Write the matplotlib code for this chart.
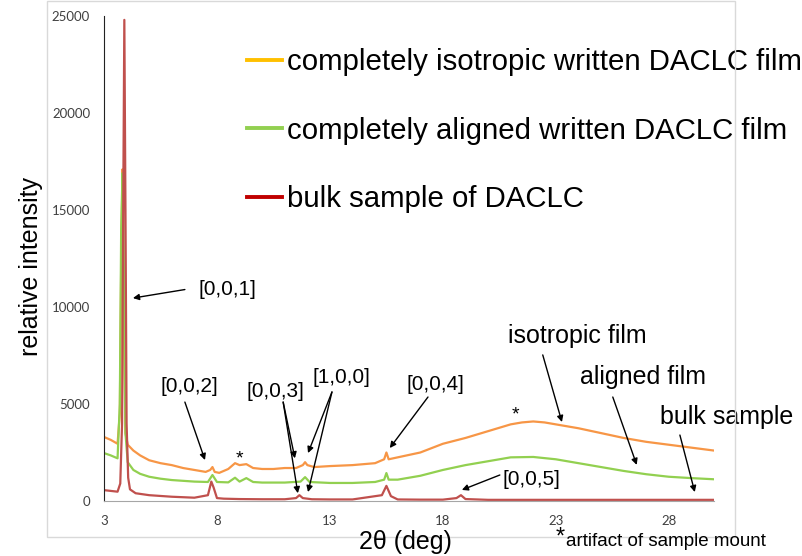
import matplotlib
matplotlib.use("Agg")
import matplotlib.pyplot as plt
from matplotlib.lines import Line2D
from matplotlib.patches import Rectangle

plt.rcParams['font.family'] = ['Liberation Sans', 'DejaVu Sans']

# isotropic written film (orange)
iso_x = [3.0, 3.3, 3.6, 3.7, 3.76, 3.82, 3.88, 3.95, 4.05, 4.3, 4.6, 5.0, 5.5, 6.0, 6.5, 7.0,
         7.5, 7.7, 7.8, 7.9, 8.1, 8.5, 8.8, 9.0, 9.3, 9.6, 10.0, 10.5, 11.0, 11.5, 11.8,
         11.9, 12.0, 12.3, 13.0, 14.0, 15.0, 15.4, 15.5, 15.6, 16.0, 17.0, 18.0, 19.0,
         20.0, 21.0, 21.5, 22.0, 22.5, 23.0, 24.0, 25.0, 26.0, 27.0, 28.0, 29.0, 30.0]
iso_y = [3300, 3150, 2950, 4500, 12000, 17100, 9000, 3500, 2900, 2600, 2350, 2100, 1950,
         1850, 1700, 1600, 1500, 1600, 1750, 1500, 1450, 1650, 1950, 1850, 1900, 1700,
         1650, 1650, 1700, 1700, 1850, 2000, 1850, 1750, 1800, 1850, 1950, 2150, 2500,
         2150, 2250, 2500, 2950, 3250, 3600, 3950, 4050, 4100, 4050, 3950, 3750, 3500,
         3250, 3050, 2900, 2750, 2600]

# aligned written film (green)
ali_x = [3.0, 3.3, 3.6, 3.7, 3.76, 3.82, 3.88, 3.95, 4.05, 4.3, 4.6, 5.0, 5.5, 6.0, 7.0,
         7.6, 7.8, 8.0, 8.5, 8.8, 9.0, 9.3, 9.6, 10.0, 11.0, 11.7, 11.9, 12.1, 13.0, 14.0,
         15.0, 15.4, 15.5, 15.6, 16.0, 17.0, 18.0, 19.0, 20.0, 21.0, 22.0, 23.0, 24.0,
         25.0, 26.0, 27.0, 28.0, 29.0, 30.0]
ali_y = [2470, 2350, 2200, 5000, 14000, 16900, 12000, 3500, 2000, 1600, 1400, 1250, 1150,
         1080, 1000, 980, 1340, 980, 960, 1200, 1000, 1180, 980, 950, 950, 1000, 1230, 980,
         930, 930, 980, 1100, 1440, 1100, 1100, 1300, 1600, 1850, 2050, 2250, 2270, 2150,
         1950, 1750, 1550, 1380, 1250, 1180, 1120]

# bulk sample (red)
bulk_x = [3.0, 3.3, 3.6, 3.72, 3.8, 3.85, 3.9, 3.95, 4.0, 4.07, 4.15, 4.4, 5.0, 6.0, 7.0,
          7.6, 7.75, 7.85, 8.0, 8.3, 9.0, 10.0, 11.0, 11.5, 11.65, 11.8, 12.2, 13.0, 14.0,
          15.3, 15.5, 15.7, 16.0, 17.0, 18.0, 18.6, 18.8, 19.0, 20.0, 22.0, 25.0, 28.0, 30.0]
bulk_y = [560, 520, 480, 900, 4000, 15000, 24800, 15000, 4000, 1200, 600, 400, 300, 220,
          170, 300, 1000, 700, 150, 120, 100, 90, 90, 150, 300, 150, 90, 80, 80, 300, 780,
          250, 80, 70, 70, 150, 300, 100, 60, 60, 60, 60, 60]

labels = ["completely isotropic written DACLC film",
          "completely aligned written DACLC film",
          "bulk sample of DACLC"]
xticks = [3, 8, 13, 18, 23, 28]
yticks = [0, 5000, 10000, 15000, 20000, 25000]

fig = plt.figure(figsize=(8.03, 5.56), dpi=100)
fig.patches.append(Rectangle((47 / 803, 1 - 537 / 556), 688 / 803, 536 / 556,
                             transform=fig.transFigure, fill=False,
                             edgecolor='#d9d9d9', lw=1))
ax = fig.add_axes([104 / 803, 1 - 501 / 556, 610 / 803, 485 / 556])

ax.plot(iso_x, iso_y, color='#f79646', lw=1.6)
ax.plot(ali_x, ali_y, color='#92d050', lw=1.6)
ax.plot(bulk_x, bulk_y, color='#c0504d', lw=1.6)

ax.set_xlim(3, 30)
ax.set_ylim(0, 25000)
ax.set_xticks(xticks)
ax.set_yticks(yticks)
ax.tick_params(length=0, labelsize=9.5, colors='#404040', pad=10)
for t in ax.get_xticklabels() + ax.get_yticklabels():
    t.set_family('Lato')
for s in ['top', 'right']:
    ax.spines[s].set_visible(False)
ax.spines['left'].set_color('#222222')
ax.spines['bottom'].set_color('#a6a6a6')

fig.text(31 / 803, 1 - 267 / 556, "relative intensity", rotation=90,
         fontsize=18, ha='center', va='center')
fig.text(405 / 803, 1 - 542 / 556, "2θ (deg)", fontsize=18, ha='center', va='center')
fig.text(556 / 803, 1 - 538 / 556, "*", fontsize=17, ha='left', va='center')
fig.text(566 / 803, 1 - 541 / 556, "artifact of sample mount", fontsize=13.5,
         ha='left', va='center')

handles = [Line2D([], [], color='#ffc000', lw=2.8),
           Line2D([], [], color='#92d050', lw=2.8),
           Line2D([], [], color='#c00000', lw=2.8)]
ax.legend(handles, labels, loc='upper left', bbox_to_anchor=(247 / 803, 1 - 48 / 556),
          bbox_transform=fig.transFigure, frameon=False, fontsize=21.2, borderpad=0,
          borderaxespad=0, handlelength=1.2, handletextpad=0.17, labelspacing=1.38)

arrow = dict(arrowstyle='-|>', color='black', lw=1, mutation_scale=9, shrinkA=0, shrinkB=0)
tsize = 15


def label(s, x, y, size=tsize):
    ax.text(x, y, s, fontsize=size, ha='center', va='center', clip_on=False)


def pointer(x0, y0, x1, y1):
    ax.annotate("", xy=(x1, y1), xytext=(x0, y0), arrowprops=arrow, annotation_clip=False)


ax.text(7.2, 10900, "[0,0,1]", fontsize=tsize, ha='left', va='center')
pointer(6.58, 10900, 4.28, 10460)
label("[0,0,2]", 6.76, 5900)
pointer(6.58, 5100, 7.47, 2110)
ax.text(9.0, 2150, "*", fontsize=14, ha='center', va='center')
label("[0,0,3]", 10.58, 5670)
pointer(10.93, 5100, 11.45, 2200)
pointer(10.93, 5100, 11.58, 400)
label("[1,0,0]", 13.49, 6390)
pointer(13.09, 5620, 12.03, 2470)
pointer(13.09, 5620, 12.03, 460)
label("[0,0,4]", 17.65, 6030)
pointer(17.34, 5360, 15.65, 2730)
label("[0,0,5]", 21.9, 1130)
pointer(20.52, 1340, 18.84, 570)
ax.text(21.2, 4450, "*", fontsize=14, ha='center', va='center')
label("isotropic film", 23.93, 8500, 18)
pointer(22.42, 7530, 23.27, 4070)
label("aligned film", 26.85, 6390, 18)
pointer(25.52, 5360, 26.58, 1860)
label("bulk sample", 30.55, 4330, 18)
pointer(28.49, 3400, 29.15, 460)

fig.savefig("out.png", dpi=100)
